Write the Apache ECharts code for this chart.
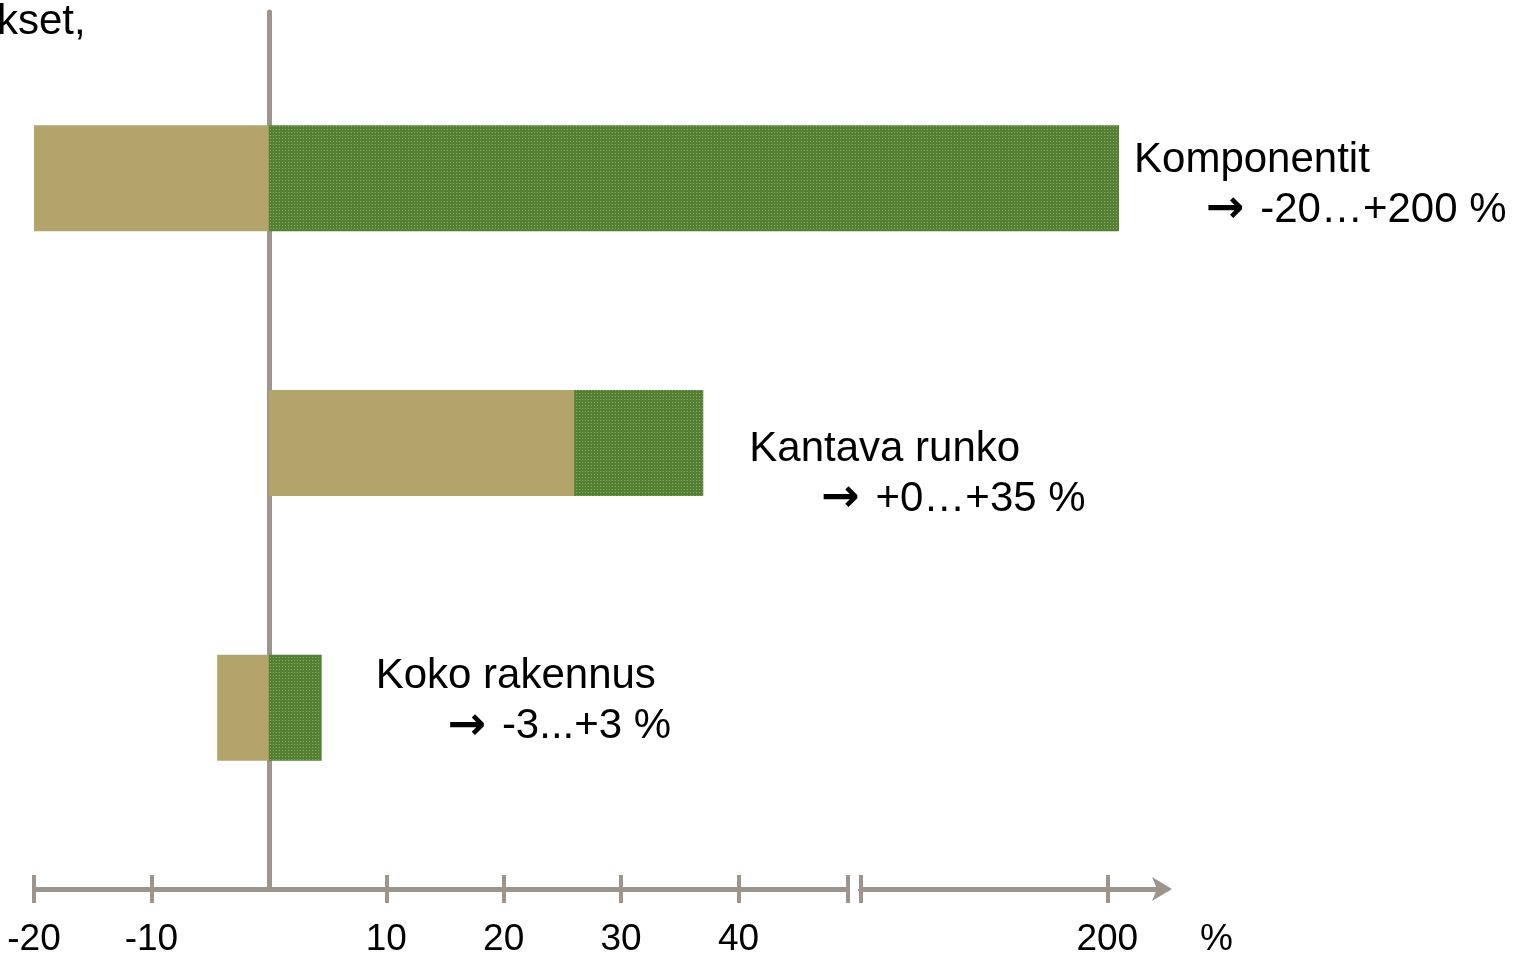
<!DOCTYPE html>
<html>
<head>
<meta charset="utf-8">
<script src="https://cdn.jsdelivr.net/npm/echarts@6.0.0/dist/echarts.min.js"></script>
<style>
  html, body { margin: 0; padding: 0; background: #fff; }
  #main { width: 1514px; height: 953px; }
</style>
</head>
<body>
<div id="main"></div>
<script>
// bottom to top
var categories = ["Koko rakennus", "Kantava runko", "Komponentit"];
var rangeTexts = ["-3...+3 %", "+0…+35 %", "-20…+200 %"];
var beigeValues = [-4.4, 26, -20];   // beige part of each bar
var greenEnds = [4.5, 37, 201];      // where the green part ends
var tickValues = [-20, -10, 10, 20, 30, 40, 200];
var breakStart = 49.3;
var breakEnd = 179;

var FONT = "'Liberation Sans', Arial, sans-serif";
var AXIS_GRAY = "#9d958c";

var chartDom = document.getElementById("main");
var myChart = echarts.init(chartDom);

// green part is stacked on top of the beige one when both are positive
var greenValues = greenEnds.map(function (end, i) {
  return +(end - Math.max(beigeValues[i], 0)).toFixed(2);
});

// label nudges so the texts sit where they are in the picture
var labelShift = [[54, -6], [46, 31], [15, 7]];

var xBase = {
  type: "value",
  min: -20,
  max: 205,
  breaks: [{ start: breakStart, end: breakEnd, gap: "1.15%" }],
  splitLine: { show: false },
};

var option = {
  animation: false,
  title: {
    text: "kset,",
    left: -3,
    top: 1,
    padding: 0,
    textStyle: { fontSize: 42, fontWeight: "normal", color: "#000", fontFamily: FONT },
  },
  grid: [
    { left: 34, right: 348, top: 12, bottom: 64, outerBoundsMode: "none", containLabel: false },
    { left: 34, right: 348, top: 46, bottom: 113, outerBoundsMode: "none", containLabel: false },
  ],
  xAxis: [
    Object.assign({}, xBase, {
      gridIndex: 0,
      position: "bottom",
      breakArea: {
        show: true,
        itemStyle: { color: "#fff", borderWidth: 0, opacity: 1 },
        zigzagAmplitude: 0,
        zigzagZ: 1,
        expandOnClick: false,
      },
      axisLine: {
        show: true,
        onZero: false,
        symbol: ["none", "arrow"],
        symbolSize: [18, 20],
        symbolOffset: [0, 6],
        lineStyle: { color: AXIS_GRAY, width: 5 },
      },
      axisTick: {
        show: true,
        length: 14,
        customValues: tickValues.concat([breakStart, breakEnd]),
        lineStyle: { color: AXIS_GRAY, width: 4 },
      },
      axisLabel: {
        customValues: tickValues,
        margin: 32,
        fontSize: 37,
        color: "#000",
        fontFamily: FONT,
      },
      name: "%",
      nameLocation: "end",
      nameGap: 34,
      nameTextStyle: {
        fontSize: 37,
        color: "#000",
        fontFamily: FONT,
        align: "left",
        verticalAlign: "top",
        padding: [32, 0, 0, 0],
      },
    }),
    Object.assign({}, xBase, {
      gridIndex: 0,
      position: "bottom",
      z: 5,
      breakArea: { show: false },
      axisLine: { show: false, onZero: false },
      axisTick: {
        show: true,
        inside: true,
        length: 14,
        customValues: tickValues.concat([breakStart, breakEnd]),
        lineStyle: { color: AXIS_GRAY, width: 4 },
      },
      axisLabel: { show: false },
    }),
    Object.assign({}, xBase, {
      gridIndex: 1,
      show: false,
      breakArea: { show: false },
    }),
  ],
  yAxis: [
    {
      type: "value",
      gridIndex: 0,
      min: 0,
      max: 1,
      axisLine: { show: true, onZero: true, lineStyle: { color: AXIS_GRAY, width: 5 } },
      axisTick: { show: false },
      axisLabel: { show: false },
      splitLine: { show: false },
    },
    {
      type: "category",
      gridIndex: 1,
      data: categories,
      show: false,
    },
  ],
  series: [
    {
      name: "low",
      type: "bar",
      xAxisIndex: 2,
      yAxisIndex: 1,
      stack: "range",
      barWidth: 106,
      itemStyle: { color: "#b2a46b" },
      data: beigeValues,
    },
    {
      name: "high",
      type: "bar",
      xAxisIndex: 2,
      yAxisIndex: 1,
      stack: "range",
      barWidth: 106,
      itemStyle: {
        color: "#557f33",
        decal: {
          symbol: "rect",
          symbolSize: 1,
          color: "rgba(170, 205, 140, 0.6)",
          dashArrayX: [1, 2],
          dashArrayY: [1, 2],
          rotation: 0,
        },
      },
      data: greenValues.map(function (v, i) {
        return {
          value: v,
          label: {
            show: true,
            position: "right",
            distance: labelShift[i][0],
            offset: [0, labelShift[i][1]],
            formatter: "{a|" + categories[i] + "}\n{arr|→}{b| " + rangeTexts[i] + "}",
            rich: {
              a: { fontSize: 42, lineHeight: 50, color: "#000", fontFamily: FONT },
              arr: {
                fontSize: 46, fontWeight: "bold", lineHeight: 50, color: "#000",
                fontFamily: "'DejaVu Sans', sans-serif", padding: [0, 4, 0, 72],
              },
              b: { fontSize: 42, lineHeight: 50, color: "#000", fontFamily: FONT },
            },
          },
        };
      }),
    },
  ],
};

option && myChart.setOption(option);
</script>
</body>
</html>
